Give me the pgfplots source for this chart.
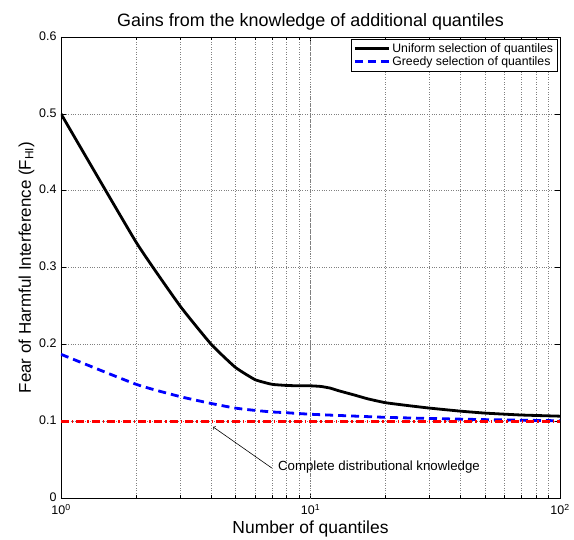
\documentclass[border=0pt]{standalone}
\usepackage{fontspec}
\setmainfont{Liberation Sans}
\usepackage{pgfplots}
\pgfplotsset{compat=1.18}
\begin{document}
\begin{tikzpicture}
\path[use as bounding box] (-61bp,-42bp) rectangle (513bp,498bp);
\begin{axis}[
  at={(0,0)}, anchor=south west,
  scale only axis, width=499bp, height=461bp,
  xmode=log, xmin=1, xmax=100, ymin=0, ymax=0.6,
  ytick={0,0.1,0.2,0.3,0.4,0.5,0.6},
  yticklabels={0,0.1,0.2,0.3,0.4,0.5,0.6},
  xtick={1,10,100},
  xticklabels={10\textsuperscript{0},10\textsuperscript{1},10\textsuperscript{2}},
  tick align=inside, tick pos=both,
  major tick length=5bp, minor tick length=3bp,
  xminorgrids, ymajorgrids,
  extra x ticks={10}, extra x tick labels={},
  extra x tick style={grid=major, major tick length=0pt},
  grid style={black!50, dotted, line width=0.5pt},
  minor grid style={black!50, dotted, line width=0.5pt},
  axis line style={black, line width=0.8pt},
  tick style={black, line width=0.5pt},
  tick label style={font=\fontsize{12.5}{13}\selectfont},
  xticklabel style={yshift=-3bp},
  yticklabel style={xshift=-1bp, yshift=1bp},
  title={Gains from the knowledge of additional quantiles},
  title style={font=\fontsize{18}{19}\selectfont, yshift=-3bp},
  xlabel={Number of quantiles},
  ylabel={Fear of Harmful Interference (F\textsubscript{HI})},
  xlabel style={font=\fontsize{17.5}{18}\selectfont, yshift=1bp},
  ylabel style={font=\fontsize{17}{18}\selectfont, yshift=-2bp},
  legend style={at={(0.995,0.995)}, anchor=north east, draw=black, line width=0.8pt,
    font=\fontsize{12.3}{13}\selectfont, inner sep=2pt, row sep=-1.5pt,
    legend cell align=left},
  legend image code/.code={\draw[#1] (0bp,0bp) -- (34bp,0bp);},
]
\addplot[black, line width=2.8bp, smooth, tension=0.25] coordinates {
 (1,0.5) (2,0.333) (3,0.25) (4,0.2) (5,0.17) (6,0.154) (7,0.148) (8,0.1465)
 (9,0.146) (10,0.146) (11,0.1452) (12,0.143) (13,0.1395) (15,0.134) (17,0.129) (20,0.124)
 (25,0.12) (30,0.117) (40,0.113) (50,0.1105) (70,0.108) (100,0.1065)};
\addlegendentry{Uniform selection of quantiles}
\addplot[blue, line width=2.8bp, dash pattern=on 8bp off 5bp, smooth, tension=0.3] coordinates {
 (1,0.187) (2,0.148) (3,0.132) (4,0.123) (5,0.117) (6,0.114) (7,0.112) (8,0.111)
 (10,0.109) (14,0.107) (20,0.105) (30,0.1035) (50,0.102) (100,0.1005)};
\addlegendentry{Greedy selection of quantiles}
\addplot[red, line width=2.8bp, dash pattern=on 8bp off 3bp on 1.5bp off 3bp, forget plot] coordinates {
 (1,0.1) (100,0.1)};
\draw[->, black, line width=0.6pt] (axis cs:7.0,0.039) -- (axis cs:4.07,0.0925);
\node[anchor=west, font=\fontsize{13.3}{14}\selectfont, inner sep=0pt] at (axis cs:7.4,0.040) {Complete distributional knowledge};
\end{axis}
\end{tikzpicture}
\end{document}
